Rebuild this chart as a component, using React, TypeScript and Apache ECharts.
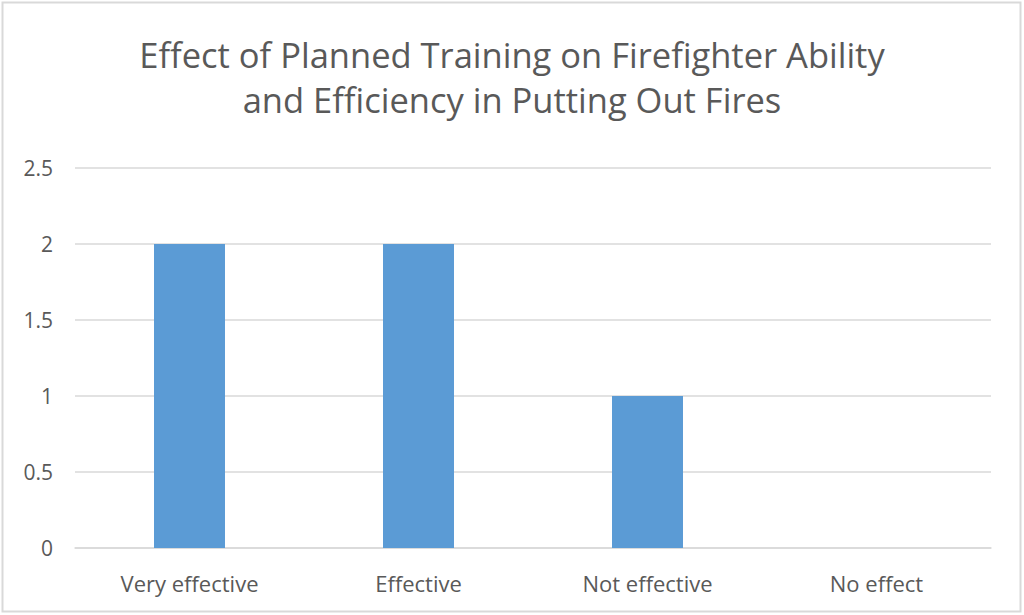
import React, { useEffect, useRef } from "react";
import * as echarts from "echarts";

const categories = ["Very effective", "Effective", "Not effective", "No effect"];
const values = [2, 2, 1, 0];
const titleText = "Effect of Planned Training on Firefighter Ability\nand Efficiency in Putting Out Fires";

export default function App() {
  const ref = useRef<HTMLDivElement>(null);
  useEffect(() => {
    if (!ref.current) return;
    const chart = echarts.init(ref.current, null, { renderer: "svg" });
    chart.setOption({
      animation: false,
      backgroundColor: "#ffffff",
      title: {
        text: titleText,
        left: "center",
        top: 32,
        padding: 0,
        textStyle: {
          fontFamily: "Open Sans",
          fontSize: 34.5,
          fontWeight: "normal",
          color: "#595959",
          lineHeight: 45,
        },
      },
      graphic: [
        {
          type: "rect",
          shape: { x: 2.5, y: 2.5, width: 1018, height: 609 },
          style: { fill: "none", stroke: "#d9d9d9", lineWidth: 2 },
          silent: true,
        },
      ],
      grid: { left: 75, right: 33, top: 168, bottom: 67 },
      xAxis: {
        type: "category",
        data: categories,
        axisTick: { show: false },
        axisLine: { lineStyle: { color: "#d9d9d9", width: 1.5 } },
        axisLabel: {
          color: "#595959",
          fontFamily: "Open Sans",
          fontSize: 22,
          margin: 24,
        },
      },
      yAxis: {
        type: "value",
        min: 0,
        max: 2.5,
        interval: 0.5,
        axisLine: { show: false },
        axisTick: { show: false },
        splitLine: { lineStyle: { color: "#d9d9d9", width: 1.5 } },
        axisLabel: {
          color: "#595959",
          fontFamily: "Open Sans",
          fontSize: 21,
          margin: 22,
        },
      },
      series: [
        {
          type: "bar",
          data: values,
          barWidth: "31%",
          itemStyle: { color: "#5b9bd5" },
        },
      ],
    });
    return () => chart.dispose();
  }, []);
  return (
    <div
      ref={ref}
      style={{ position: "fixed", left: 0, top: 0, width: 1024, height: 615 }}
    />
  );
}
